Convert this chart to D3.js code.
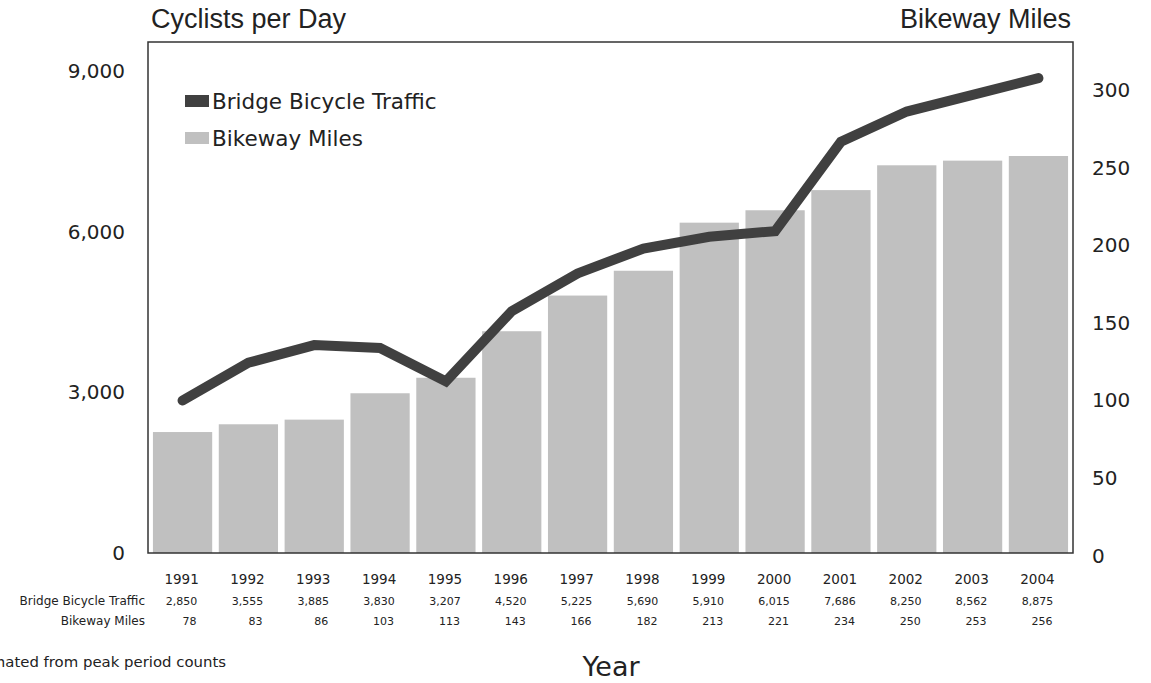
<!DOCTYPE html>
<html>
<head>
<meta charset="utf-8">
<script src="https://cdn.jsdelivr.net/npm/d3@7"></script>
<style>
  html, body { margin: 0; padding: 0; background: #fff; }
  svg { display: block; font-family: "DejaVu Sans", Verdana, sans-serif; }
</style>
</head>
<body>
<svg id="chart" width="1151" height="683"></svg>
<script>
// Annual bridge bicycle traffic (cyclists per day) and bikeway miles
const years = ["1991", "1992", "1993", "1994", "1995", "1996", "1997",
               "1998", "1999", "2000", "2001", "2002", "2003", "2004"];
const bridgeTraffic = [2850, 3555, 3885, 3830, 3207, 4520, 5225,
                       5690, 5910, 6015, 7686, 8250, 8562, 8875];
const bikewayMiles = [78, 83, 86, 103, 113, 143, 166,
                      182, 213, 221, 234, 250, 253, 256];
const leftTicks = [0, 3000, 6000, 9000];
const rightTicks = [0, 50, 100, 150, 200, 250, 300];
const seriesNames = ["Bridge Bicycle Traffic", "Bikeway Miles"];

const plot = { left: 148, right: 1073, top: 42, bottom: 553 };
const ink = "#222";
const lineColor = "#404040";
const barColor = "#c0c0c0";
const titleFont = "Liberation Sans, Arial, sans-serif";

const svg = d3.select("#chart");

const x = d3.scaleBand()
  .domain(years)
  .range([plot.left, plot.right])
  .paddingInner(0.1)
  .paddingOuter(0.075);

const yLeft = d3.scaleLinear().domain([0, 9550]).range([plot.bottom, plot.top]);
const yRight = d3.scaleLinear().domain([0, 329.5]).range([plot.bottom, plot.top]);

const data = years.map((yr, i) => ({ year: yr, traffic: bridgeTraffic[i], miles: bikewayMiles[i] }));
const cx = d => x(d.year) + x.bandwidth() / 2;

// Bars: bikeway miles on the right-hand scale
svg.append("g")
  .selectAll("rect")
  .data(data)
  .join("rect")
  .attr("x", d => x(d.year))
  .attr("y", d => yRight(d.miles))
  .attr("width", x.bandwidth())
  .attr("height", d => yRight(0) - yRight(d.miles))
  .attr("fill", barColor);

// Line: bridge traffic on the left-hand scale
const line = d3.line()
  .x(cx)
  .y(d => yLeft(d.traffic));

svg.append("path")
  .datum(data)
  .attr("d", line)
  .attr("fill", "none")
  .attr("stroke", lineColor)
  .attr("stroke-width", 10)
  .attr("stroke-linecap", "round")
  .attr("stroke-linejoin", "miter");

// Plot frame
svg.append("rect")
  .attr("x", plot.left)
  .attr("y", plot.top)
  .attr("width", plot.right - plot.left)
  .attr("height", plot.bottom - plot.top)
  .attr("fill", "none")
  .attr("stroke", "#333")
  .attr("stroke-width", 1.5);

// Left axis labels
const leftAxis = d3.axisLeft(yLeft)
  .tickValues(leftTicks)
  .tickSize(0)
  .tickPadding(23)
  .tickFormat(d3.format(","));
const gl = svg.append("g")
  .attr("transform", `translate(${plot.left},0)`)
  .call(leftAxis);
gl.select(".domain").remove();
gl.selectAll("text")
  .attr("font-size", 20)
  .attr("font-family", "DejaVu Sans, sans-serif")
  .attr("fill", ink);

// Right axis labels
const rightAxis = d3.axisRight(yRight)
  .tickValues(rightTicks)
  .tickSize(0)
  .tickPadding(19)
  .tickFormat(d3.format("d"));
const gr = svg.append("g")
  .attr("transform", `translate(${plot.right},0)`)
  .call(rightAxis);
gr.select(".domain").remove();
gr.selectAll("text")
  .attr("font-size", 20)
  .attr("font-family", "DejaVu Sans, sans-serif")
  .attr("fill", ink)
  .attr("dy", "0.45em");

// Axis titles
svg.append("text")
  .attr("x", plot.left + 3)
  .attr("y", 28)
  .attr("font-family", titleFont)
  .attr("font-size", 27)
  .attr("fill", ink)
  .text("Cyclists per Day");

svg.append("text")
  .attr("x", plot.right - 2)
  .attr("y", 28)
  .attr("text-anchor", "end")
  .attr("font-family", titleFont)
  .attr("font-size", 27)
  .attr("fill", ink)
  .text("Bikeway Miles");

// Legend
const legend = svg.append("g");
const legendColors = [lineColor, barColor];
seriesNames.forEach((name, i) => {
  const ly = 101 + i * 37;
  legend.append("rect")
    .attr("x", 185)
    .attr("y", ly - 6)
    .attr("width", 24)
    .attr("height", 12)
    .attr("fill", legendColors[i]);
  legend.append("text")
    .attr("x", 212)
    .attr("y", ly + 7.5)
    .attr("font-size", 21.5)
    .attr("fill", ink)
    .text(name);
});

// Data table under the chart
const table = svg.append("g").attr("fill", ink);

table.selectAll("text.year")
  .data(data)
  .join("text")
  .attr("class", "year")
  .attr("x", d => cx(d) - 1)
  .attr("y", 584)
  .attr("text-anchor", "middle")
  .attr("font-size", 13.5)
  .text(d => d.year);

table.selectAll("text.traffic")
  .data(data)
  .join("text")
  .attr("class", "traffic")
  .attr("x", d => cx(d) - 1)
  .attr("y", 605)
  .attr("text-anchor", "middle")
  .attr("font-size", 11)
  .text(d => d3.format(",")(d.traffic));

table.selectAll("text.miles")
  .data(data)
  .join("text")
  .attr("class", "miles")
  .attr("x", d => cx(d) + 14)
  .attr("y", 625)
  .attr("text-anchor", "end")
  .attr("font-size", 11)
  .text(d => d.miles);

seriesNames.forEach((name, i) => {
  table.append("text")
    .attr("x", 145)
    .attr("y", 605 + i * 20)
    .attr("text-anchor", "end")
    .attr("font-size", 12)
    .text(name);
});

// Footnote (runs off the left edge of the page) and x-axis title
svg.append("text")
  .attr("x", 226)
  .attr("y", 667)
  .attr("text-anchor", "end")
  .attr("font-size", 14.9)
  .attr("fill", ink)
  .text("* Estimated from peak period counts");

svg.append("text")
  .attr("x", 611)
  .attr("y", 676)
  .attr("text-anchor", "middle")
  .attr("font-size", 27)
  .attr("fill", ink)
  .text("Year");
</script>
</body>
</html>
